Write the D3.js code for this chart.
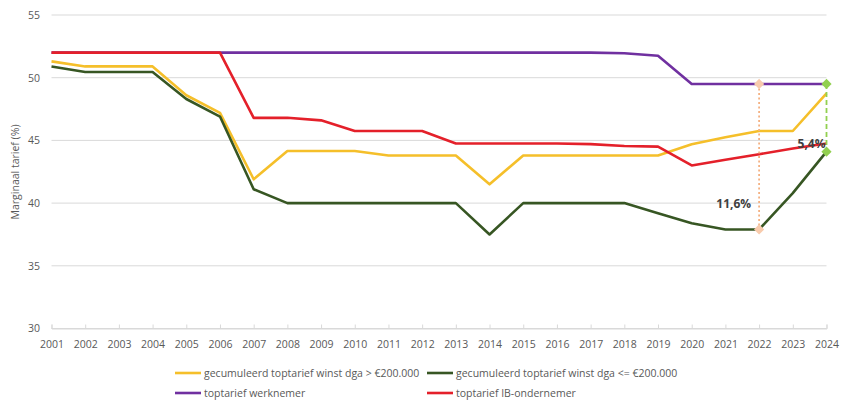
<!DOCTYPE html>
<html><head><meta charset="utf-8">
<script src="https://cdn.jsdelivr.net/npm/d3@7"></script>
<style>
html,body{margin:0;padding:0;background:#fff;}
svg{display:block;font-family:"Open Sans",sans-serif;}
</style></head>
<body><svg id="c" width="849" height="403"></svg>
<script>
const years = [2001,2002,2003,2004,2005,2006,2007,2008,2009,2010,2011,2012,2013,2014,2015,2016,2017,2018,2019,2020,2021,2022,2023,2024];
const dgaHigh = [51.3,50.9,50.9,50.9,48.6,47.2,41.9,44.15,44.15,44.15,43.8,43.8,43.8,41.5,43.8,43.8,43.8,43.8,43.8,44.7,45.25,45.75,45.75,48.75];
const dgaLow  = [50.9,50.45,50.45,50.45,48.3,46.9,41.1,40.0,40.0,40.0,40.0,40.0,40.0,37.5,40.0,40.0,40.0,40.0,39.2,38.4,37.9,37.9,40.8,44.1];
const werknemer = [52,52,52,52,52,52,52,52,52,52,52,52,52,52,52,52,52,51.95,51.75,49.5,49.5,49.5,49.5,49.5];
const ibOndernemer = [52,52,52,52,52,52,46.8,46.8,46.6,45.75,45.75,45.75,44.75,44.75,44.75,44.75,44.7,44.55,44.5,43.0,43.45,43.9,44.35,44.75];
const yTicks = [30,35,40,45,50,55];
const seriesNames = ["gecumuleerd toptarief winst dga > €200.000","gecumuleerd toptarief winst dga <= €200.000","toptarief werknemer","toptarief IB-ondernemer"];
const seriesColors = ["#f5bf2a","#375623","#7030a0","#e4202a"];
const annotations = [
  {year:2022, top:49.5, bottom:37.9, label:"11,6%"},
  {year:2024, top:49.5, bottom:44.1, label:"5,4%"}
];

const svg = d3.select("#c");
const x = d3.scalePoint().domain(years).range([51.5, 826.5]);
const y = d3.scaleLinear().domain([30,55]).range([328.5, 15]);

// gridlines
svg.append("g").selectAll("line").data(yTicks).join("line")
  .attr("x1", x.range()[0]).attr("x2", x.range()[1])
  .attr("y1", d=>y(d)).attr("y2", d=>y(d))
  .attr("stroke", "#d9d9d9").attr("stroke-width", 1);

// y axis labels
const yAxis = svg.append("g").attr("transform","translate(42,0)")
  .call(d3.axisLeft(y).tickValues(yTicks).tickSize(0).tickPadding(2));
yAxis.select(".domain").remove();
yAxis.selectAll("text").attr("fill","#595959").style("font-size","10.5px").style("font-family","Open Sans");

// x axis
const xAxis = svg.append("g").attr("transform",`translate(0,${y(30)})`)
  .call(d3.axisBottom(x).tickSize(-4).tickPadding(12));
xAxis.select(".domain").attr("stroke","#d9d9d9");
xAxis.selectAll(".tick line").attr("stroke","#d9d9d9");
xAxis.selectAll("text").attr("fill","#595959").style("font-size","10.5px").style("font-family","Open Sans");

// y title
svg.append("text").attr("transform","translate(19,172) rotate(-90)")
  .attr("text-anchor","middle").attr("fill","#595959").style("font-size","10.5px")
  .text("Marginaal tarief (%)");

// lines
const allSeries = [dgaHigh, dgaLow, werknemer, ibOndernemer];
const drawOrder = [2,0,1,3];
const line = d3.line().x((d,i)=>x(years[i])).y(d=>y(d));
drawOrder.forEach(k=>{
  svg.append("path").datum(allSeries[k]).attr("d", line)
    .attr("fill","none").attr("stroke", seriesColors[k]).attr("stroke-width",2.6)
    .attr("stroke-linejoin","round");
});

// annotations
const diamond = d3.symbol().type(d3.symbolSquare).size(52);
const annStyles = [
  {color:"#f4b183", marker:"#f8cbad", dash:"2,2.5"},
  {color:"#92d050", marker:"#92d050", dash:"5,3"}
];
annotations.forEach((a,i)=>{
  const s = annStyles[i];
  const xx = x(a.year);
  svg.append("line").attr("x1",xx).attr("x2",xx).attr("y1",y(a.top)).attr("y2",y(a.bottom))
    .attr("stroke",s.color).attr("stroke-width",1.8).attr("stroke-dasharray",s.dash);
  [a.top,a.bottom].forEach(v=>{
    svg.append("path").attr("d",diamond).attr("transform",`translate(${xx},${y(v)}) rotate(45)`)
      .attr("fill",s.marker);
  });
});
svg.append("text").attr("x", x(2022)-8).attr("y", y(40)+4.5).attr("text-anchor","end")
  .attr("fill","#404040").style("font-weight","bold").style("font-size","12px").text(annotations[0].label);
svg.append("text").attr("x", x(2024)-1).attr("y", y(44.5)+1).attr("text-anchor","end")
  .attr("fill","#404040").style("font-weight","bold").style("font-size","12px").text(annotations[1].label);

// legend
const legPos = [[175,373],[427,373],[175,393],[427,393]];
seriesNames.forEach((n,i)=>{
  const g = svg.append("g").attr("transform",`translate(${legPos[i][0]},${legPos[i][1]})`);
  g.append("line").attr("x1",0).attr("x2",26).attr("y1",0).attr("y2",0)
    .attr("stroke",seriesColors[i]).attr("stroke-width",2.6);
  g.append("text").attr("x",29).attr("y",3.5).attr("fill","#595959")
    .style("font-size","10.5px").text(n);
});
</script></body></html>
